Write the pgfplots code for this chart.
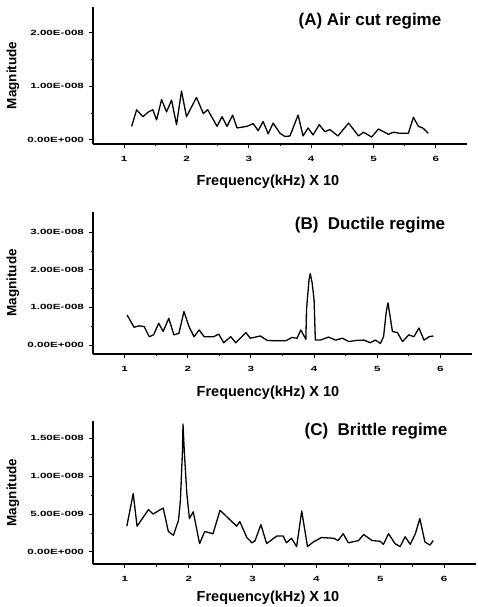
\documentclass[border=0pt]{standalone}
\usepackage{fontspec}
\setmainfont{Liberation Sans}
\usepackage{graphicx}
\usepackage{pgfplots}
\pgfplotsset{compat=1.18}
\newcommand\tl[1]{\scalebox{1.55}[1]{\fontsize{7.5}{8}\selectfont\bfseries #1}}
\pgfplotsset{
  panel/.style={
    scale only axis,
    axis lines=left,
    axis line style={-, line width=1.2pt},
    xmin=0.5, xmax=6.5,
    xtick={1,2,3,4,5,6},
    xticklabels={\tl{1},\tl{2},\tl{3},\tl{4},\tl{5},\tl{6}},
    minor xtick={1.5,2.5,3.5,4.5,5.5},
    tick style={black, line width=0.9pt},
    major tick length=4pt,
    minor tick length=2.5pt,
    tick align=outside,
    xticklabel style={yshift=-5pt},
    yticklabel style={anchor=east, xshift=-1.5pt},
    ylabel={Magnitude},
    xlabel={Frequency(kHz) X 10},
    ylabel style={at={([xshift=-80pt]axis description cs:0,0.5)}, anchor=center,
      font=\fontsize{13.5}{14}\selectfont\bfseries},
    xlabel style={at={([xshift=175pt,yshift=\xlshift]axis description cs:0,0)}, anchor=center,
      font=\fontsize{14.5}{15}\selectfont\bfseries},
    cycle list={{black, no marks, sharp plot}},
    every axis plot post/.append style={line width=1.3pt, line join=round},
  },
}
\def\xlshift{-38pt}
\tikzset{ttl/.style={font=\fontsize{17}{18}\selectfont\bfseries, anchor=center}}
\begin{document}
\begin{tikzpicture}
\useasboundingbox (0,0) rectangle (477pt,607pt);
% Panel A
\begin{axis}[panel, at={(93pt,463pt)}, anchor=south west, width=374pt, height=137pt,
  ymin=-0.08, ymax=2.48, ytick={0,1,2}, minor ytick={0.5,1.5},
  yticklabels={\tl{0.00E+000},\tl{1.00E-008},\tl{2.00E-008}}]
\addplot coordinates {
(1.12,0.25)(1.20,0.56)(1.30,0.43)(1.39,0.52)(1.46,0.56)(1.52,0.37)(1.60,0.75)(1.68,0.52)
(1.76,0.74)(1.84,0.28)(1.92,0.91)(2.00,0.43)(2.16,0.79)(2.27,0.49)(2.34,0.56)(2.49,0.25)
(2.57,0.43)(2.65,0.25)(2.74,0.46)(2.81,0.22)(2.97,0.25)(3.07,0.30)(3.15,0.17)(3.23,0.34)
(3.31,0.11)(3.39,0.31)(3.50,0.12)(3.58,0.06)(3.66,0.07)(3.79,0.46)(3.87,0.07)(3.95,0.22)
(4.03,0.09)(4.13,0.28)(4.22,0.15)(4.30,0.19)(4.43,0.07)(4.60,0.31)(4.76,0.07)(4.84,0.14)
(4.97,0.05)(5.08,0.20)(5.24,0.10)(5.32,0.14)(5.42,0.12)(5.56,0.12)(5.64,0.42)(5.72,0.25)
(5.79,0.22)(5.88,0.12)};
\node[ttl] at ([xshift=277pt,yshift=-14pt]rel axis cs:0,1) {(A) Air cut regime};
\end{axis}
% Panel B
\def\xlshift{-39pt}
\begin{axis}[panel, at={(93pt,253pt)}, anchor=south west, width=379pt, height=142pt,
  ymin=-0.24, ymax=3.54, ytick={0,1,2,3}, minor ytick={0.5,1.5,2.5},
  yticklabels={\tl{0.00E+000},\tl{1.00E-008},\tl{2.00E-008},\tl{3.00E-008}}]
\addplot coordinates {
(1.04,0.80)(1.15,0.47)(1.23,0.51)(1.31,0.49)(1.39,0.22)(1.46,0.27)(1.54,0.58)(1.61,0.36)
(1.70,0.71)(1.78,0.27)(1.86,0.31)(1.94,0.89)(2.02,0.49)(2.10,0.22)(2.18,0.40)(2.26,0.22)
(2.41,0.22)(2.49,0.29)(2.57,0.06)(2.68,0.22)(2.76,0.06)(2.92,0.33)(2.99,0.18)(3.15,0.24)
(3.26,0.12)(3.42,0.11)(3.55,0.11)(3.65,0.20)(3.73,0.18)(3.79,0.40)(3.87,0.15)(3.88,0.94)
(3.92,1.74)(3.94,1.90)(3.97,1.65)(4.00,1.20)(4.02,0.13)(4.10,0.13)(4.23,0.21)(4.34,0.13)
(4.45,0.18)(4.55,0.09)(4.66,0.12)(4.79,0.13)(4.89,0.06)(4.97,0.13)(5.05,0.04)(5.10,0.22)
(5.14,0.85)(5.17,1.12)(5.20,0.80)(5.24,0.36)(5.32,0.33)(5.40,0.09)(5.50,0.27)(5.58,0.22)
(5.66,0.45)(5.74,0.13)(5.82,0.22)(5.89,0.24)};
\node[ttl] at ([xshift=277pt,yshift=-13pt]rel axis cs:0,1) {(B)\ \ Ductile regime};
\end{axis}
% Panel C
\def\xlshift{-34pt}
\begin{axis}[panel, at={(93pt,43pt)}, anchor=south west, width=383pt, height=143pt,
  ymin=-0.16, ymax=1.73, ytick={0,0.5,1,1.5}, minor ytick={0.25,0.75,1.25},
  yticklabels={\tl{0.00E+000},\tl{5.00E-009},\tl{1.00E-008},\tl{1.50E-008}}]
\addplot coordinates {
(1.03,0.34)(1.13,0.77)(1.19,0.34)(1.37,0.56)(1.44,0.50)(1.60,0.58)(1.68,0.27)(1.76,0.22)
(1.84,0.42)(1.87,0.69)(1.90,1.31)(1.91,1.69)(1.93,1.33)(1.97,0.77)(2.01,0.44)(2.07,0.53)
(2.17,0.11)(2.25,0.27)(2.38,0.24)(2.49,0.55)(2.75,0.34)(2.80,0.40)(2.91,0.19)(2.99,0.12)
(3.04,0.15)(3.13,0.36)(3.22,0.11)(3.38,0.21)(3.48,0.21)(3.53,0.12)(3.61,0.18)(3.69,0.07)
(3.77,0.54)(3.86,0.07)(3.95,0.13)(4.08,0.19)(4.27,0.18)(4.34,0.15)(4.42,0.24)(4.50,0.12)
(4.66,0.15)(4.74,0.23)(4.87,0.15)(5.00,0.14)(5.05,0.10)(5.13,0.24)(5.23,0.11)(5.31,0.07)
(5.39,0.20)(5.47,0.10)(5.55,0.24)(5.62,0.44)(5.70,0.13)(5.78,0.09)(5.83,0.15)};
\node[ttl] at ([xshift=283pt,yshift=-10pt]rel axis cs:0,1) {(C)\ \ Brittle regime};
\end{axis}
\end{tikzpicture}
\end{document}
